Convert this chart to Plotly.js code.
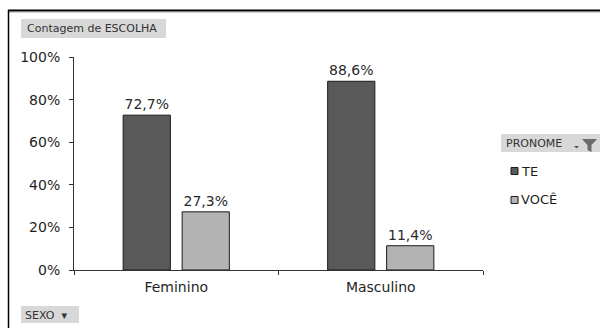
<!DOCTYPE html>
<html>
<head>
<meta charset="utf-8">
<script src="https://cdn.plot.ly/plotly-3.0.1.min.js"></script>
<style>html,body{margin:0;padding:0;background:#fff;}#chart{width:600px;height:328px;}</style>
</head>
<body>
<div id="chart"></div>
<script>
const categories = ['Feminino', 'Masculino'];
const seriesNames = ['TE', 'VOCÊ'];
const teValues = [72.7, 88.6];
const voceValues = [27.3, 11.4];
const yTickValues = [0, 20, 40, 60, 80, 100];
const yTickLabels = ['0%', '20%', '40%', '60%', '80%', '100%'];
const seriesColors = ['#595959', '#b3b3b3'];

const FONT = 'DejaVu Sans, Verdana, sans-serif';
const seriesValues = [teValues, voceValues];

const traces = seriesNames.map((name, i) => ({
  type: 'bar',
  name: name,
  x: categories,
  y: seriesValues[i],
  marker: {color: seriesColors[i], line: {color: '#1a1a1a', width: 1}},
  texttemplate: '%{y:.1f}%',
  textposition: 'outside',
  textfont: {family: FONT, size: 14, color: '#2a2a2a'},
  cliponaxis: false,
  showlegend: false,
  hoverinfo: 'skip'
}));

// pixel helpers (plot area: x 74..483, y 57..270)
const L = 74, R = 483, T = 57, B = 270;
const px = v => (v - L) / (R - L);
const py = v => (B - v) / (B - T);

const shapes = [
  {type: 'line', xref: 'paper', yref: 'paper', x0: px(8), x1: px(640), y0: py(10.5), y1: py(10.5), line: {color: '#000', width: 2}},
  {type: 'line', xref: 'paper', yref: 'paper', x0: px(9), x1: px(640), y0: py(12.5), y1: py(12.5), line: {color: '#cfcfcf', width: 1}},
  {type: 'line', xref: 'paper', yref: 'paper', x0: px(8.5), x1: px(8.5), y0: py(10), y1: py(340), line: {color: '#000', width: 1.5}},
  // button backgrounds
  {type: 'rect', xref: 'paper', yref: 'paper', x0: px(21), x1: px(166), y0: py(19), y1: py(38), fillcolor: '#d8d8d8', line: {width: 0}, layer: 'below'},
  {type: 'rect', xref: 'paper', yref: 'paper', x0: px(21), x1: px(79), y0: py(306), y1: py(323), fillcolor: '#d8d8d8', line: {width: 0}, layer: 'below'},
  {type: 'rect', xref: 'paper', yref: 'paper', x0: px(501), x1: px(600), y0: py(134), y1: py(152), fillcolor: '#d8d8d8', line: {width: 0}, layer: 'below'},
  // PRONOME dropdown arrow and filter funnel
  {type: 'path', xref: 'paper', yref: 'paper',
   path: `M${px(574)},${py(146)} L${px(579)},${py(146)} L${px(576.5)},${py(148.5)} Z`,
   fillcolor: '#555', line: {width: 0}},
  {type: 'path', xref: 'paper', yref: 'paper',
   path: `M${px(582)},${py(139)} L${px(597)},${py(139)} L${px(591.5)},${py(145)} L${px(591.5)},${py(152)} L${px(587.5)},${py(150)} L${px(587.5)},${py(145)} Z`,
   fillcolor: '#6b6b6b', line: {width: 0}}
];

const annotations = [
  {text: 'Contagem de ESCOLHA', xref: 'paper', yref: 'paper', x: px(25), y: py(28.5), xanchor: 'left', yanchor: 'middle',
   showarrow: false, font: {family: FONT, size: 11, color: '#333'}},
  {text: 'SEXO  ▾', xref: 'paper', yref: 'paper', x: px(23), y: py(315), xanchor: 'left', yanchor: 'middle',
   showarrow: false, font: {family: FONT, size: 11, color: '#333'}},
  {text: 'PRONOME', xref: 'paper', yref: 'paper', x: px(504), y: py(143.5), xanchor: 'left', yanchor: 'middle',
   showarrow: false, font: {family: FONT, size: 11, color: '#333'}}
];

// manual legend built from the series arrays
const legendRows = [171, 200];
seriesNames.forEach((name, i) => {
  const cy = legendRows[i];
  shapes.push({type: 'rect', xref: 'paper', yref: 'paper', x0: px(511), x1: px(518), y0: py(cy - 3.5), y1: py(cy + 3.5),
    fillcolor: seriesColors[i], line: {color: '#1a1a1a', width: 1}});
  annotations.push({text: name, xref: 'paper', yref: 'paper', x: px(519), y: py(cy), xanchor: 'left', yanchor: 'middle',
    showarrow: false, font: {family: FONT, size: 13, color: '#1f1f1f'}});
});

const layout = {
  width: 600, height: 328,
  margin: {l: L, r: 600 - R, t: T, b: 328 - B, pad: 0},
  paper_bgcolor: '#ffffff',
  plot_bgcolor: '#ffffff',
  separators: ',.',
  barmode: 'group',
  bargap: 0.423,
  bargroupgap: 0.2,
  showlegend: false,
  font: {family: FONT, color: '#262626'},
  xaxis: {
    type: 'category',
    showline: true, linecolor: '#333333', linewidth: 1,
    ticks: 'outside', tickson: 'boundaries', ticklen: 4, tickcolor: '#333333',
    tickfont: {family: FONT, size: 14, color: '#1f1f1f'},
    ticklabelstandoff: 4,
    showgrid: false, zeroline: false
  },
  yaxis: {
    range: [0, 100],
    tickmode: 'array',
    tickvals: yTickValues,
    ticktext: yTickLabels,
    showline: true, linecolor: '#333333', linewidth: 1,
    ticks: 'outside', ticklen: 4, tickcolor: '#333333',
    tickfont: {family: FONT, size: 14, color: '#1f1f1f'},
    ticklabelstandoff: 6,
    showgrid: false, zeroline: false
  },
  shapes: shapes,
  annotations: annotations
};

Plotly.newPlot('chart', traces, layout, {displayModeBar: false, staticPlot: true});
</script>
</body>
</html>
